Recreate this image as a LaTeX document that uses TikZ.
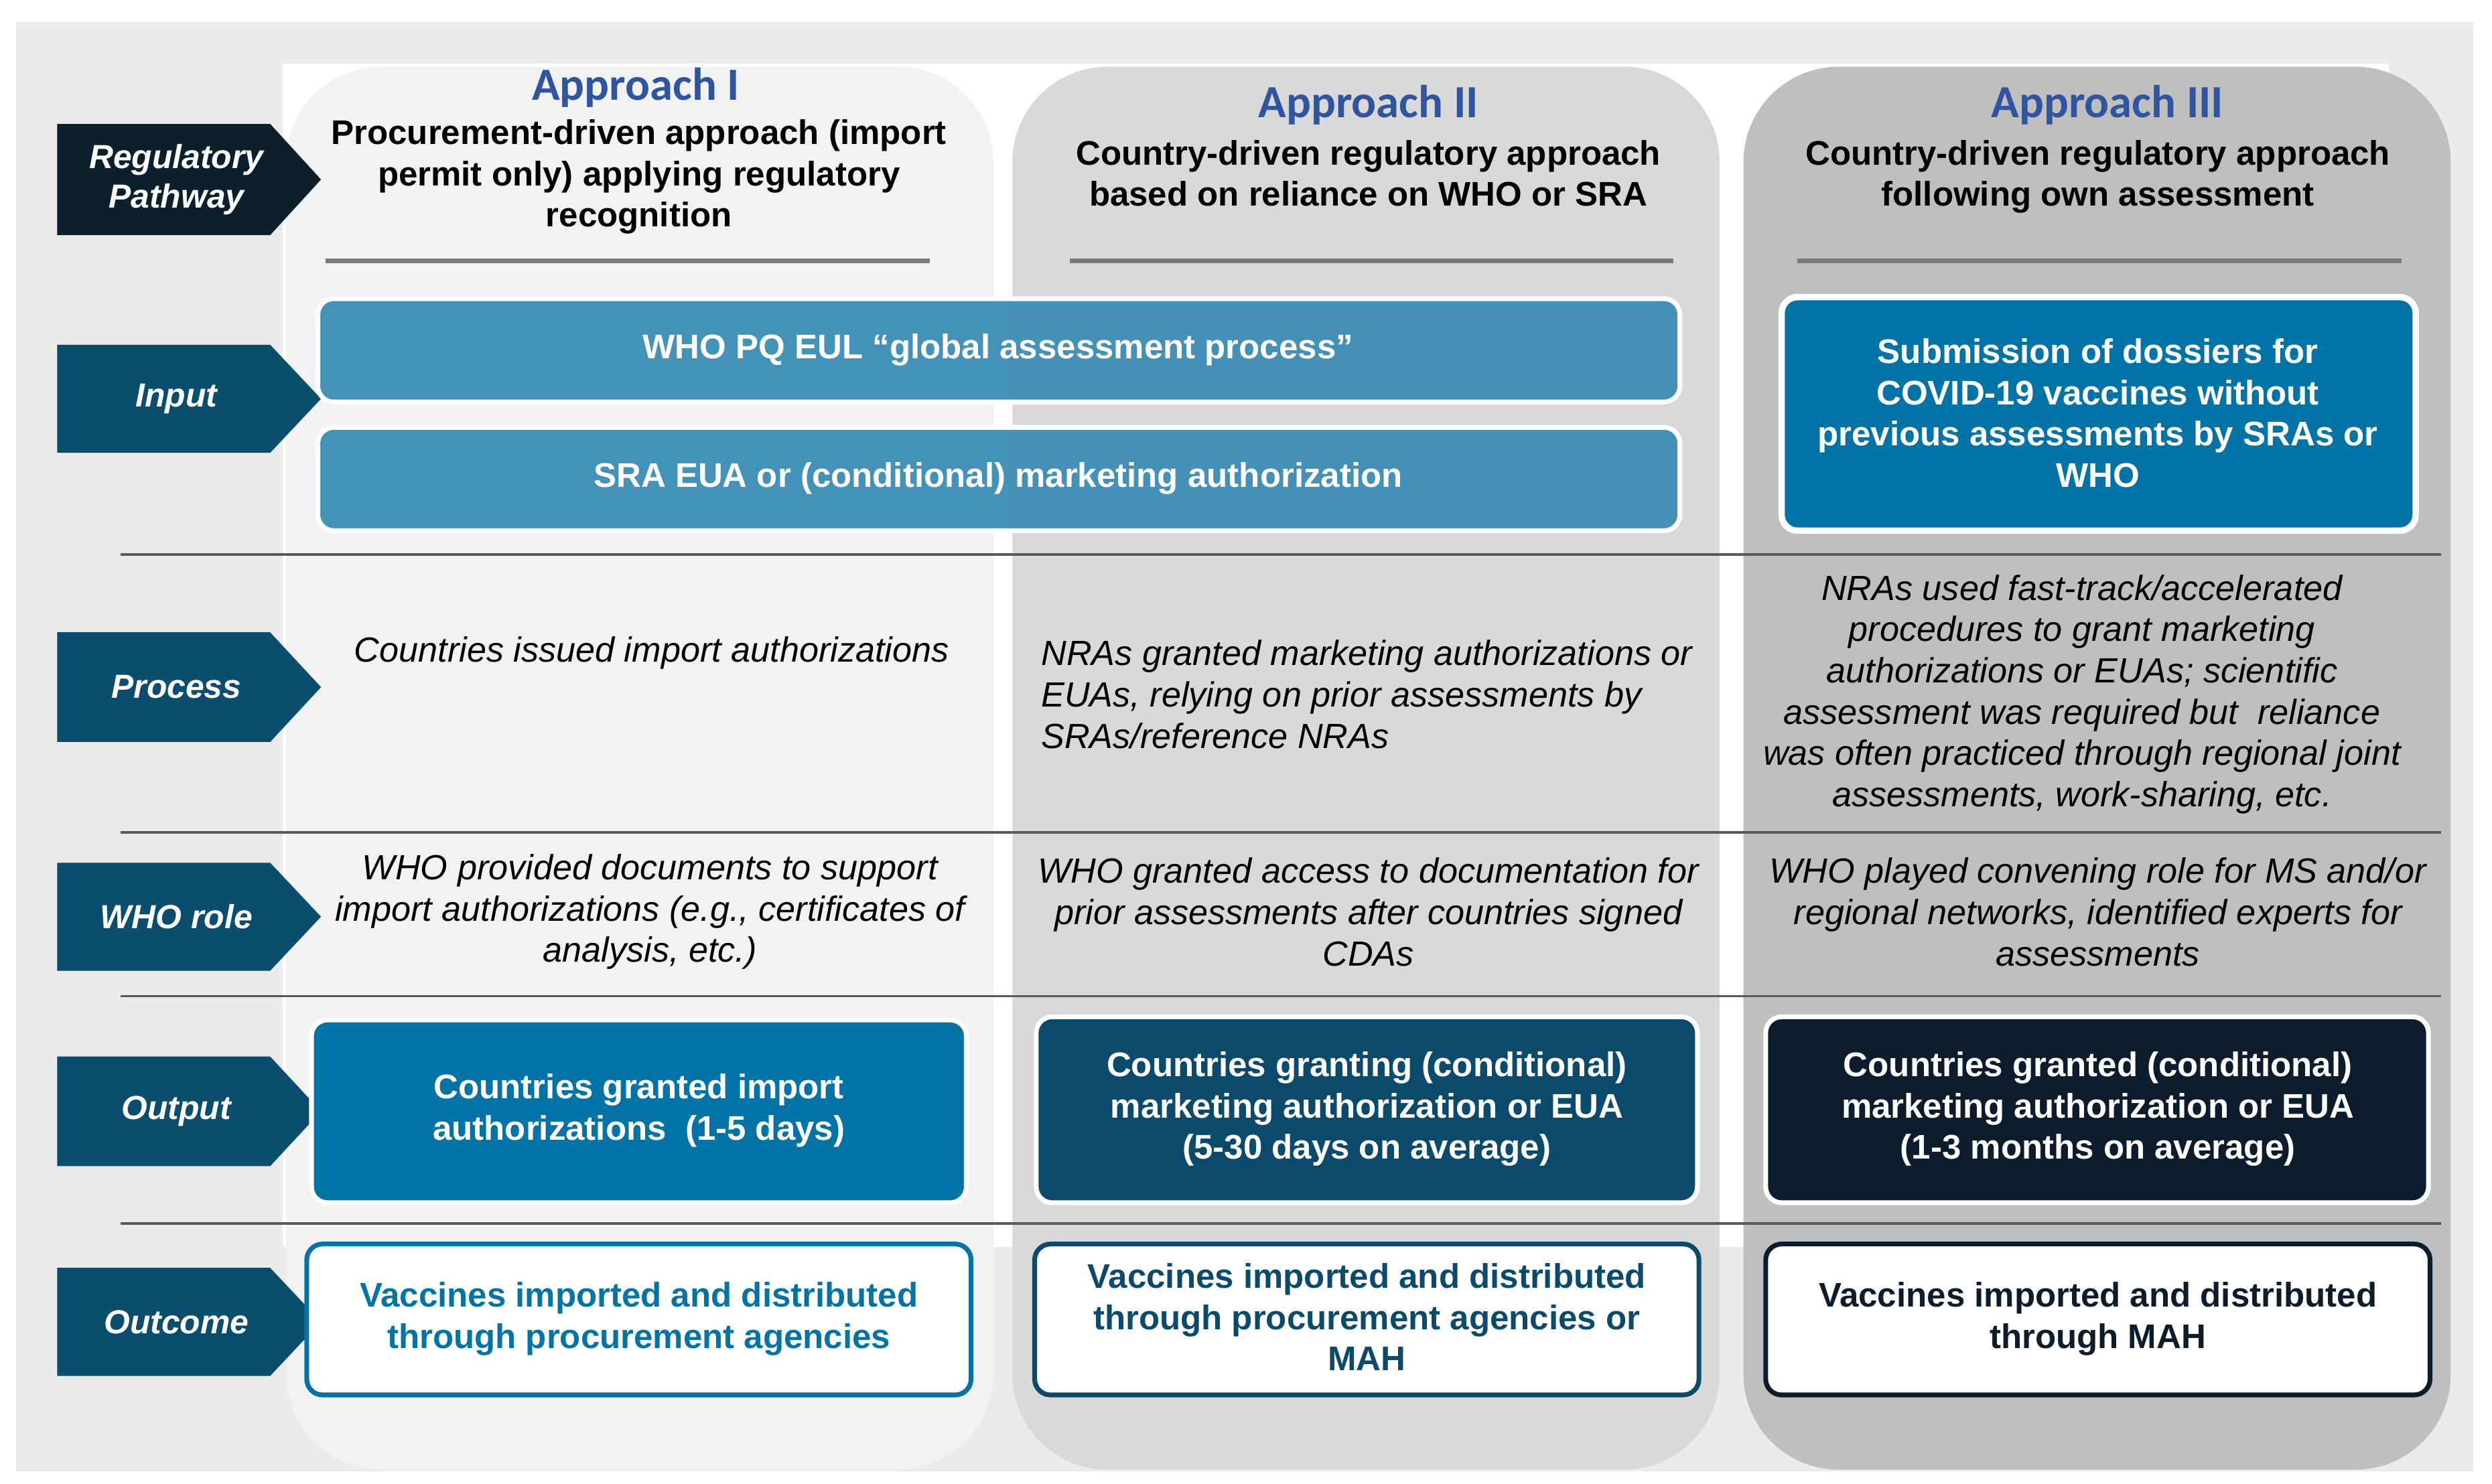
\documentclass[tikz,border=0pt]{standalone}
\usepackage{fontspec}
\setmainfont{Liberation Sans}
\newfontfamily\hdfont{Carlito}
\usetikzlibrary{shapes.arrows,positioning}
\definecolor{bgG}{HTML}{EBEBEB}
\definecolor{c1}{HTML}{F2F2F2}
\definecolor{c2}{HTML}{D9D9D9}
\definecolor{c3}{HTML}{BFBFBF}
\definecolor{tabA}{HTML}{0B1F2C}
\definecolor{tabB}{HTML}{0B4D6C}
\definecolor{inB}{HTML}{3C8DB5}
\definecolor{blA}{HTML}{0373A6}
\definecolor{blB}{HTML}{0B4A6A}
\definecolor{blC}{HTML}{0C1C2C}
\definecolor{hd}{HTML}{2F55A0}
\definecolor{ln}{HTML}{595959}
\begin{document}
\begin{tikzpicture}[x=1pt,y=-1pt,
  txt/.style={font=\fontsize{22}{26}\selectfont,align=center,inner sep=0pt},
  it/.style={txt,font=\fontsize{22}{26}\selectfont\itshape},
  bf/.style={txt,font=\fontsize{21.5}{26}\selectfont\bfseries},
  col/.style={rounded corners=60pt,draw=none},
  box/.style={rounded corners=10pt,draw=white,line width=3pt},
  tab/.style={fill=tabB,draw=none},
  tablbl/.style={text=white,font=\fontsize{21}{25}\selectfont\bfseries\itshape,align=center,inner sep=0pt},
  hdr/.style={text=hd,font=\fontsize{29}{30}\selectfont\hdfont\bfseries,inner sep=0pt},
  shortln/.style={draw=ln!80,line width=3pt},
  rowln/.style={draw=ln,line width=1.6pt}]
\useasboundingbox (0,0) rectangle (1568,934);
\fill[white] (0,0) rectangle (1568,934);
\fill[bgG] (10,14) rectangle (1556,926);
\fill[white] (178,40) rectangle (1503,785);
\fill[c1,col] (180,42) rectangle (625,925);
\fill[c2,col] (637,42) rectangle (1082,925);
\fill[c3,col] (1097,42) rectangle (1542,925);
% row lines
\foreach \y in {349,524,627,770} \draw[rowln] (76,\y) -- (1536,\y);
% tabs
\foreach \a/\b/\c/\n/\t in {78/148/tabA/t1/{Regulatory\\Pathway},217/285/tabB/t2/Input,398/467/tabB/t3/Process,543/611/tabB/t4/WHO role,665/734/tabB/t5/Output,798/866/tabB/t6/Outcome}{
  \fill[\c] (36,\a) -- (170,\a) -- (202,{(\a+\b)/2}) -- (170,\b) -- (36,\b) -- cycle;
  \node[tablbl] (\n) at (111,{(\a+\b)/2}) {\t};
}
% headers
\node[hdr] (h1) at (400,55) {Approach I};
\node[hdr] (h2) at (861,66) {Approach II};
\node[hdr] (h3) at (1326,66) {Approach III};
\node[bf,anchor=north] (s1) at (402,75) {Procurement-driven approach (import\\permit only) applying regulatory\\recognition};
\node[bf,anchor=north] (s2) at (861,88) {Country-driven regulatory approach\\based on reliance on WHO or SRA};
\node[bf,anchor=north] (s3) at (1320,88) {Country-driven regulatory approach\\following own assessment};
\draw[shortln] (205,164) -- (585,164);
\draw[shortln] (673,164) -- (1053,164);
\draw[shortln] (1131,164) -- (1511,164);
% input
\draw[box,fill=inB,fill opacity=0.95] (200,188) rectangle (1057,253);
\node[bf,text=white] (i1) at (628,220) {WHO PQ EUL “global assessment process”};
\draw[box,fill=inB,fill opacity=0.95] (200,269) rectangle (1057,334);
\node[bf,text=white] (i2) at (628,301) {SRA EUA or (conditional) marketing authorization};
\draw[box,fill=blA,line width=4pt] (1121,187) rectangle (1520,334);
\node[bf,text=white] (i3) at (1320,260) {Submission of dossiers for\\COVID-19 vaccines without\\previous assessments by SRAs or\\WHO};
% process
\node[it] (p1) at (410,411) {Countries issued import authorizations};
\node[it,align=left] (p2) at (860,437) {NRAs granted marketing authorizations or\\EUAs, relying on prior assessments by\\SRAs/reference NRAs};
\node[it] (p3) at (1310,437) {NRAs used fast-track/accelerated\\procedures to grant marketing\\authorizations or EUAs; scientific\\assessment was required but\ \ reliance\\was often practiced through regional joint\\assessments, work-sharing, etc.};
% WHO role
\node[it] (w1) at (409,574) {WHO provided documents to support\\import authorizations (e.g., certificates of\\analysis, etc.)};
\node[it] (w2) at (861,574) {WHO granted access to documentation for\\prior assessments after countries signed\\CDAs};
\node[it] (w3) at (1320,574) {WHO played convening role for MS and/or\\regional networks, identified experts for\\assessments};
% output
\draw[box,fill=blA] (196,642) rectangle (608,757);
\node[bf,text=white] (o1) at (402,699) {Countries granted import\\authorizations\ \ (1-5 days)};
\draw[box,fill=blB] (652,640) rectangle (1068,757);
\node[bf,text=white] (o2) at (860,698) {Countries granting (conditional)\\marketing authorization or EUA\\(5-30 days on average)};
\draw[box,fill=blC] (1111,640) rectangle (1528,757);
\node[bf,text=white] (o3) at (1320,698) {Countries granted (conditional)\\marketing authorization or EUA\\(1-3 months on average)};
% outcome
\draw[rounded corners=10pt,fill=white,draw=blA,line width=3pt] (193,783) rectangle (611,878);
\node[bf,text=blA] (u1) at (402,830) {Vaccines imported and distributed\\through procurement agencies};
\draw[rounded corners=10pt,fill=white,draw=blB,line width=3pt] (651,783) rectangle (1069,878);
\node[bf,text=blB] (u2) at (860,829) {Vaccines imported and distributed\\through procurement agencies or\\MAH};
\draw[rounded corners=10pt,fill=white,draw=blC,line width=3pt] (1111,783) rectangle (1529,878);
\node[bf,text=blC] (u3) at (1320,830) {Vaccines imported and distributed\\through MAH};
\end{tikzpicture}
\end{document}
